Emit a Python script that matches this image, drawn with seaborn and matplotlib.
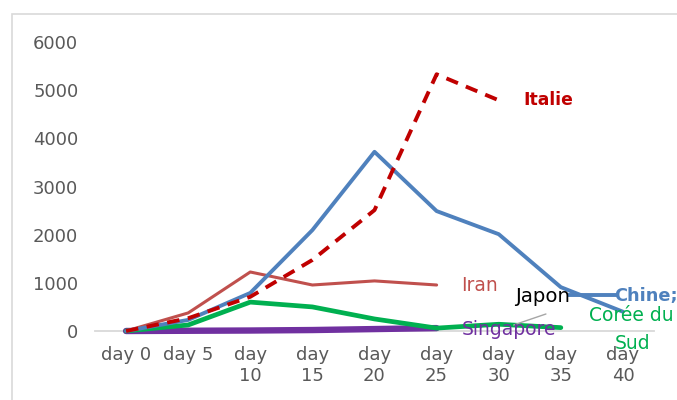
import matplotlib
matplotlib.use("Agg")
import matplotlib.pyplot as plt
from matplotlib.patches import Rectangle
import seaborn as sns
import pandas as pd

# Days since outbreak start and their axis labels
days = [0, 5, 10, 15, 20, 25, 30, 35, 40]
day_labels = ["day 0", "day 5", "day\n10", "day\n15", "day\n20",
              "day\n25", "day\n30", "day\n35", "day\n40"]

# New cases per country
chine = [0, 230, 790, 2095, 3720, 2490, 2010, 910, 400]
italie = [0, 265, 710, 1475, 2510, 5330, 4790]
iran = [0, 375, 1225, 955, 1040, 955]
coree = [0, 125, 600, 500, 250, 60, 140, 70]
singapore = [0, 5, 10, 20, 40, 60]

sns.set_style("white")
plt.rcParams["font.family"] = ["DejaVu Sans"]

fig = plt.figure(figsize=(6.77, 4.0), dpi=100)
W, H = 677, 400
ax = fig.add_axes([95 / W, (H - 331) / H, (654 - 95) / W, (331 - 42) / H])

# outer chart frame
fig.patches.append(Rectangle((12 / W, -0.1), 1.2, (H - 14) / H + 0.1,
                             transform=fig.transFigure, fill=False,
                             edgecolor="#D9D9D9", linewidth=1.2, zorder=0))


def series(values):
    return pd.DataFrame({"day": days[:len(values)], "cases": values})


common = dict(x="day", y="cases", ax=ax, solid_capstyle="round",
              dash_capstyle="butt")
sns.lineplot(data=series(singapore), color="#7030A0", linewidth=4.6, zorder=3, **common)
sns.lineplot(data=series(coree), color="#00B050", linewidth=3.4, zorder=4, **common)
sns.lineplot(data=series(iran), color="#C0504D", linewidth=2.2, zorder=5, **common)
sns.lineplot(data=series(chine), color="#4F81BD", linewidth=2.8, zorder=6, **common)
sns.lineplot(data=series(italie), color="#C00000", linewidth=2.8, zorder=7,
             x="day", y="cases", ax=ax, dashes=False, linestyle=(0, (3.2, 2.2)))

# leader lines for data labels
ax.plot([35.6, 39.5], [740, 740], color="#4F81BD", linewidth=2.8, zorder=6,
        solid_capstyle="butt")
ax.plot([31.2, 33.8], [125, 353], color="#A6A6A6", linewidth=1.0, zorder=8)

# data labels
ax.text(32.0, 4790, "Italie", color="#C00000", fontsize=12.3, fontweight="bold",
        va="center", ha="left", zorder=9)
ax.text(27.0, 955, "Iran", color="#C0504D", fontsize=13.5, va="center", ha="left", zorder=9)
ax.text(31.3, 720, "Japon", color="black", fontsize=14.2, va="center", ha="left", zorder=9)
ax.text(39.25, 720, "Chine;", color="#4F81BD", fontsize=12.8, fontweight="bold",
        va="center", ha="left", zorder=9)
ax.text(37.25, 330, "Corée du", color="#00B050", fontsize=13.5, va="center", ha="left", zorder=9)
ax.text(39.35, -250, "Sud", color="#00B050", fontsize=13.5, va="center", ha="left", zorder=9)
ax.text(27.0, 30, "Singapore", color="#7030A0", fontsize=13.5, va="center", ha="left", zorder=9)

ax.set_xlim(-2.5, 42.5)
ax.set_ylim(0, 6000)
ax.set_xticks(days)
ax.set_xticklabels(day_labels)
ax.set_yticks(range(0, 6001, 1000))
ax.tick_params(axis="both", length=0, labelsize=13, labelcolor="#595959")
ax.tick_params(axis="x", pad=11)
ax.tick_params(axis="y", pad=12)
ax.set_xlabel("")
ax.set_ylabel("")
for side in ["top", "right", "left"]:
    ax.spines[side].set_visible(False)
ax.spines["bottom"].set_color("#D9D9D9")
ax.spines["bottom"].set_linewidth(1.3)
ax.patch.set_alpha(0)
for line in ax.lines:
    line.set_clip_on(False)

fig.savefig("out.png", dpi=100)
